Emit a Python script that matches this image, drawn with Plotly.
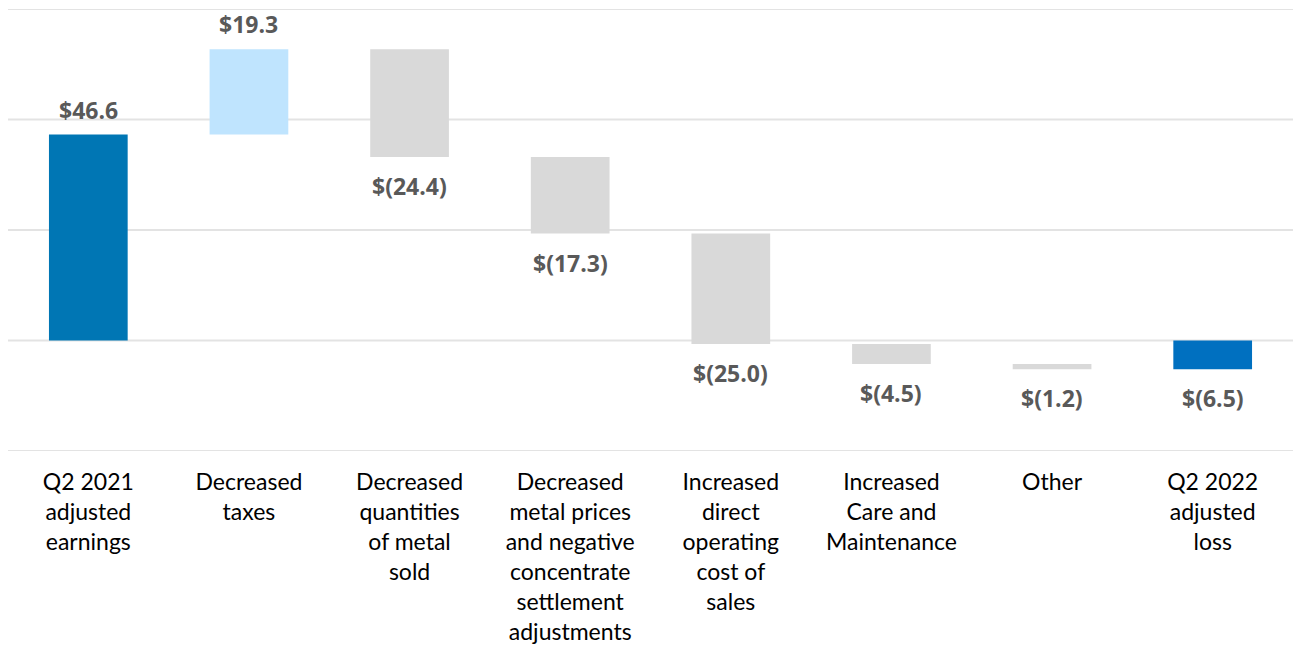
import plotly.graph_objects as go

categories = [
    "Q2 2021<br>adjusted<br>earnings",
    "Decreased<br>taxes",
    "Decreased<br>quantities<br>of metal<br>sold",
    "Decreased<br>metal prices<br>and negative<br>concentrate<br>settlement<br>adjustments",
    "Increased<br>direct<br>operating<br>cost of<br>sales",
    "Increased<br>Care and<br>Maintenance",
    "Other",
    "Q2 2022<br>adjusted<br>loss",
]
changes = [46.6, 19.3, -24.4, -17.3, -25.0, -4.5, -1.2, -6.5]
kinds = ["total", "delta", "delta", "delta", "delta", "delta", "delta", "total"]
labels = ["$46.6", "$19.3", "$(24.4)", "$(17.3)", "$(25.0)", "$(4.5)", "$(1.2)", "$(6.5)"]
colors = ["#0076B4", "#BFE4FE", "#D9D9D9", "#D9D9D9", "#D9D9D9", "#D9D9D9", "#D9D9D9", "#0070C0"]
gridvals = [-25, 0, 25, 50, 75]

# compute floating bar bases
bases, heights = [], []
running = 0.0
for c, k in zip(changes, kinds):
    if k == "total":
        bases.append(0.0)
        heights.append(c)
        running = c
    else:
        bases.append(running)
        heights.append(c)
        running += c

FONT = "Lato, Open Sans, sans-serif"
LABEL_FONT = "Open Sans, Lato, sans-serif"
x = list(range(len(categories)))
fig = go.Figure()
fig.add_trace(go.Bar(
    x=x, y=heights, base=bases, marker=dict(color=colors, line=dict(width=0)),
    width=0.49, hoverinfo="skip",
))

for i, (b, h, lab) in enumerate(zip(bases, heights, labels)):
    if h >= 0:
        fig.add_annotation(x=i, y=b + h, text=f"<b>{lab}</b>", showarrow=False,
                           yanchor="bottom", yshift=7,
                           font=dict(family=LABEL_FONT, size=23, color="#595959", weight=700))
    else:
        fig.add_annotation(x=i, y=b + h, text=f"<b>{lab}</b>", showarrow=False,
                           yanchor="top", yshift=-11,
                           font=dict(family=LABEL_FONT, size=23, color="#595959", weight=700))

for g in gridvals:
    fig.add_shape(type="line", xref="paper", x0=0, x1=1, y0=g, y1=g,
                  line=dict(color="#E3E3E3", width=2), layer="below")

fig.update_layout(
    width=1293, height=645,
    margin=dict(l=8, r=0, t=9, b=194),
    plot_bgcolor="white", paper_bgcolor="white",
    showlegend=False,
    font=dict(family=FONT, color="#000000"),
)
fig.update_xaxes(
    tickmode="array", tickvals=x, ticktext=categories,
    tickfont=dict(size=23, color="#000000"),
    range=[-0.5, len(categories) - 0.5],
    showline=False, showgrid=False, ticks="", ticklabelstandoff=15,
)
fig.update_yaxes(
    range=[-25, 75], showticklabels=False,
    showgrid=False, zeroline=False, showline=False, ticks="",
)

fig.write_html("out.html")
